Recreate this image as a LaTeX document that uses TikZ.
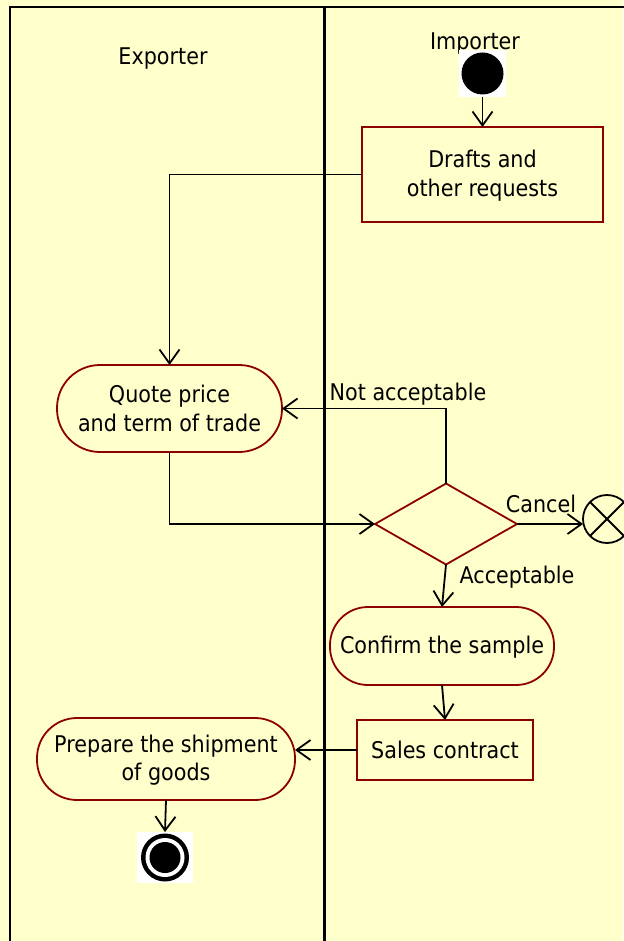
\documentclass[tikz,border=0pt]{standalone}
\usepackage{fontspec}
\setmainfont{DejaVu Sans}[FakeStretch=0.9]
\usetikzlibrary{arrows.meta,shapes.geometric}
\definecolor{bg}{RGB}{255,255,204}
\definecolor{brd}{RGB}{140,0,0}
\newcommand{\tst}{\rule[-3pt]{0pt}{23pt}}
\begin{document}
\begin{tikzpicture}[x=1pt,y=-1pt,
  every node/.style={font=\fontsize{23}{28.5}\selectfont, inner sep=0pt, outer sep=0pt},
  act/.style={draw=brd, line width=1.8pt, fill=bg, align=center},
  box/.style={draw=brd, line width=1.8pt, fill=bg, align=center},
  arr/.style={line width=1.8pt, -{Straight Barb[length=14pt,width=20pt]}},
  lanes/.style={draw=black, line width=2pt}]
\useasboundingbox (0,0) rectangle (623,941);
\fill[bg] (0,0) rectangle (623,941);
% swimlanes
\draw[lanes] (10,941) -- (10,7) -- (630,7);
\draw[lanes, line width=3.5pt] (324.5,7) -- (324.5,941);
% lane titles
\node (explbl) at (163,56.5) {\tst Exporter};
\node (implbl) at (475,41.5) {\tst Importer};
% initial node
\node[fill=white, minimum width=47pt, minimum height=47pt] (init) at (482.5,73.5) {};
\fill (init.center) circle[radius=21];
% actions
\node[box, minimum width=241pt, minimum height=95pt] (drafts) at (482.5,174.5) {\tst Drafts and\\\tst other requests};
\node[act, minimum width=225pt, minimum height=87pt, rounded corners=43pt] (quote) at (169.5,408.5) {\tst Quote price\\\tst and term of trade};
\node[draw=brd, line width=1.8pt, fill=bg, diamond, aspect=1.75, minimum width=142pt, minimum height=81pt] (dia) at (446,524) {};
\node[draw, line width=1.8pt, fill=bg, circle, minimum size=48pt] (ff) at (607,519) {};
\draw[line width=1.8pt] (ff.north west) -- (ff.south east) (ff.north east) -- (ff.south west);
\node[act, minimum width=224pt, minimum height=78pt, rounded corners=38pt] (conf) at (442,646) {\tst Confirm the sample};
\node[box, minimum width=176pt, minimum height=60pt] (sales) at (445,750) {\tst Sales contract};
\node[act, minimum width=258pt, minimum height=82pt, rounded corners=40pt] (prep) at (166,759) {\tst Prepare the shipment\\\tst of goods};
% final node
\node[fill=white, minimum width=56pt, minimum height=51pt] (fin) at (165,857.5) {};
\fill (fin.center) circle[radius=24];
\fill[white] (fin.center) circle[radius=19.5];
\fill (fin.center) circle[radius=15.5];
% connectors
\draw[arr] (init.south) -- (drafts.north);
\draw[arr] (drafts.west) -| (quote.north);
\draw[arr] (quote.south) |- (dia.west);
\draw[arr] (dia.north) |- (quote.east);
\draw[arr] (dia.east) -- (dia.east -| ff.west);
\draw[arr] (dia.south) -- (conf.north);
\draw[arr] (conf.south) -- (sales.north);
\draw[arr] (sales.west) -- (sales.west -| prep.east);
\draw[arr] (prep.south) -- (fin.north);
% guard labels
\node (na) at (408,392.5) {\tst Not acceptable};
\node (cancel) at (541,504) {\tst Cancel};
\node (acc) at (517,575.5) {\tst Acceptable};
\end{tikzpicture}
\end{document}
